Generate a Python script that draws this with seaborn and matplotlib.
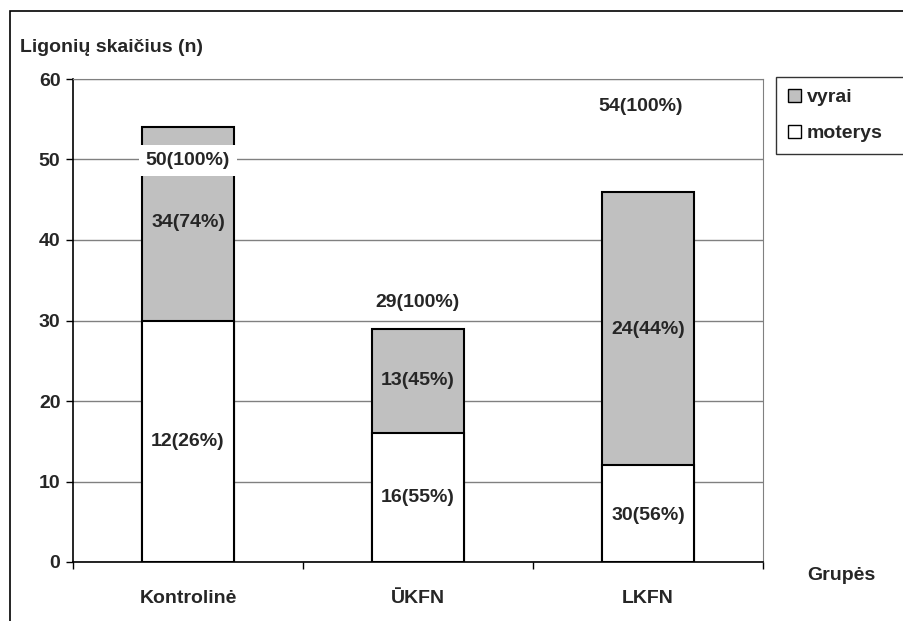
import numpy as np
import pandas as pd
import matplotlib
matplotlib.use('Agg')
import matplotlib.pyplot as plt
import seaborn as sns
from matplotlib.patches import Rectangle, Patch

groups = ['Kontrolinė', 'ŪKFN', 'LKFN']
moterys = [30, 16, 12]
vyrai = [24, 13, 34]

# label texts and their heights (as placed on the original chart)
label_text = ['50(100%)', '34(74%)', '12(26%)',
              '29(100%)', '13(45%)', '16(55%)',
              '54(100%)', '24(44%)', '30(56%)']
label_group = [0, 0, 0, 1, 1, 1, 2, 2, 2]
label_y = [49.9, 42.2, 15.0, 32.2, 22.5, 8.0, 56.6, 28.9, 5.8]
label_dx = [0, 0, 0, 0, 0, 0, -0.03, 0, 0]

FS = 14

sns.set_style('white')
plt.rcParams['font.family'] = ['Liberation Sans', 'DejaVu Sans']
plt.rcParams['font.weight'] = 'bold'

df = pd.DataFrame({'grupe': groups, 'moterys': moterys, 'vyrai': vyrai})
df['viso'] = df['moterys'] + df['vyrai']

fig = plt.figure(figsize=(9.04, 6.21), dpi=100)
ax = fig.add_axes([73/904, 1-562/621, (763-73)/904, (562-79)/621])

# outer frame
fig.patches.append(Rectangle((10/904, -0.01), 1.0, 1 - 11/621 + 0.01,
                             transform=fig.transFigure, fill=False,
                             edgecolor='black', linewidth=1.2))

ax.set_axisbelow(True)
ax.yaxis.grid(True, color='#808080', linewidth=1)

sns.barplot(data=df, x='grupe', y='viso', color='#C0C0C0', edgecolor='black',
            linewidth=1.5, width=0.4, saturation=1, ax=ax)
sns.barplot(data=df, x='grupe', y='moterys', color='white', edgecolor='black',
            linewidth=1.5, width=0.4, saturation=1, ax=ax)

for t, g, y, dx in zip(label_text, label_group, label_y, label_dx):
    kw = {}
    if t == '50(100%)':
        kw['bbox'] = dict(facecolor='white', edgecolor='none', pad=5)
    ax.text(g + dx, y, t, ha='center', va='center', fontsize=FS,
            fontweight='bold', **kw)

ax.set_xlim(-0.5, 2.5)
ax.set_ylim(0, 60)
ax.set_yticks(np.arange(0, 61, 10))
ax.tick_params(axis='y', labelsize=FS, length=5, width=1, color='black',
               left=True, pad=4)
ax.tick_params(axis='x', labelsize=FS, length=0, pad=20)
ax.set_xticks([-0.5, 0.5, 1.5, 2.5], minor=True)
ax.tick_params(axis='x', which='minor', length=5, width=1, color='black',
               bottom=True)
ax.set_xlabel('')
ax.set_ylabel('')
for lbl in ax.get_xticklabels() + ax.get_yticklabels():
    lbl.set_fontweight('bold')

ax.spines['left'].set_color('black')
ax.spines['bottom'].set_color('black')
ax.spines['left'].set_linewidth(1.2)
ax.spines['bottom'].set_linewidth(1.2)
ax.spines['top'].set_color('#808080')
ax.spines['right'].set_color('#808080')

fig.text(20/904, 1-47/621, 'Ligonių skaičius (n)', fontsize=FS,
         fontweight='bold', va='center', ha='left')
fig.text(841/904, 1-575/621, 'Grupės', fontsize=FS, fontweight='bold',
         va='center', ha='center')

handles = [Patch(facecolor='#C0C0C0', edgecolor='black', linewidth=1),
           Patch(facecolor='white', edgecolor='black', linewidth=1)]
leg = fig.legend(handles, ['vyrai', 'moterys'], loc='upper left',
                 bbox_to_anchor=(776/904, 1-77/621, 140/904, 0.0),
                 mode='expand', frameon=True,
                 fancybox=False, fontsize=FS, handlelength=0.7,
                 handleheight=0.7, handletextpad=0.3, borderpad=0.6,
                 labelspacing=0.95, borderaxespad=0)
leg.get_frame().set_edgecolor('black')
leg.get_frame().set_linewidth(1)
for t in leg.get_texts():
    t.set_fontweight('bold')

fig.savefig('out.png', dpi=100)
